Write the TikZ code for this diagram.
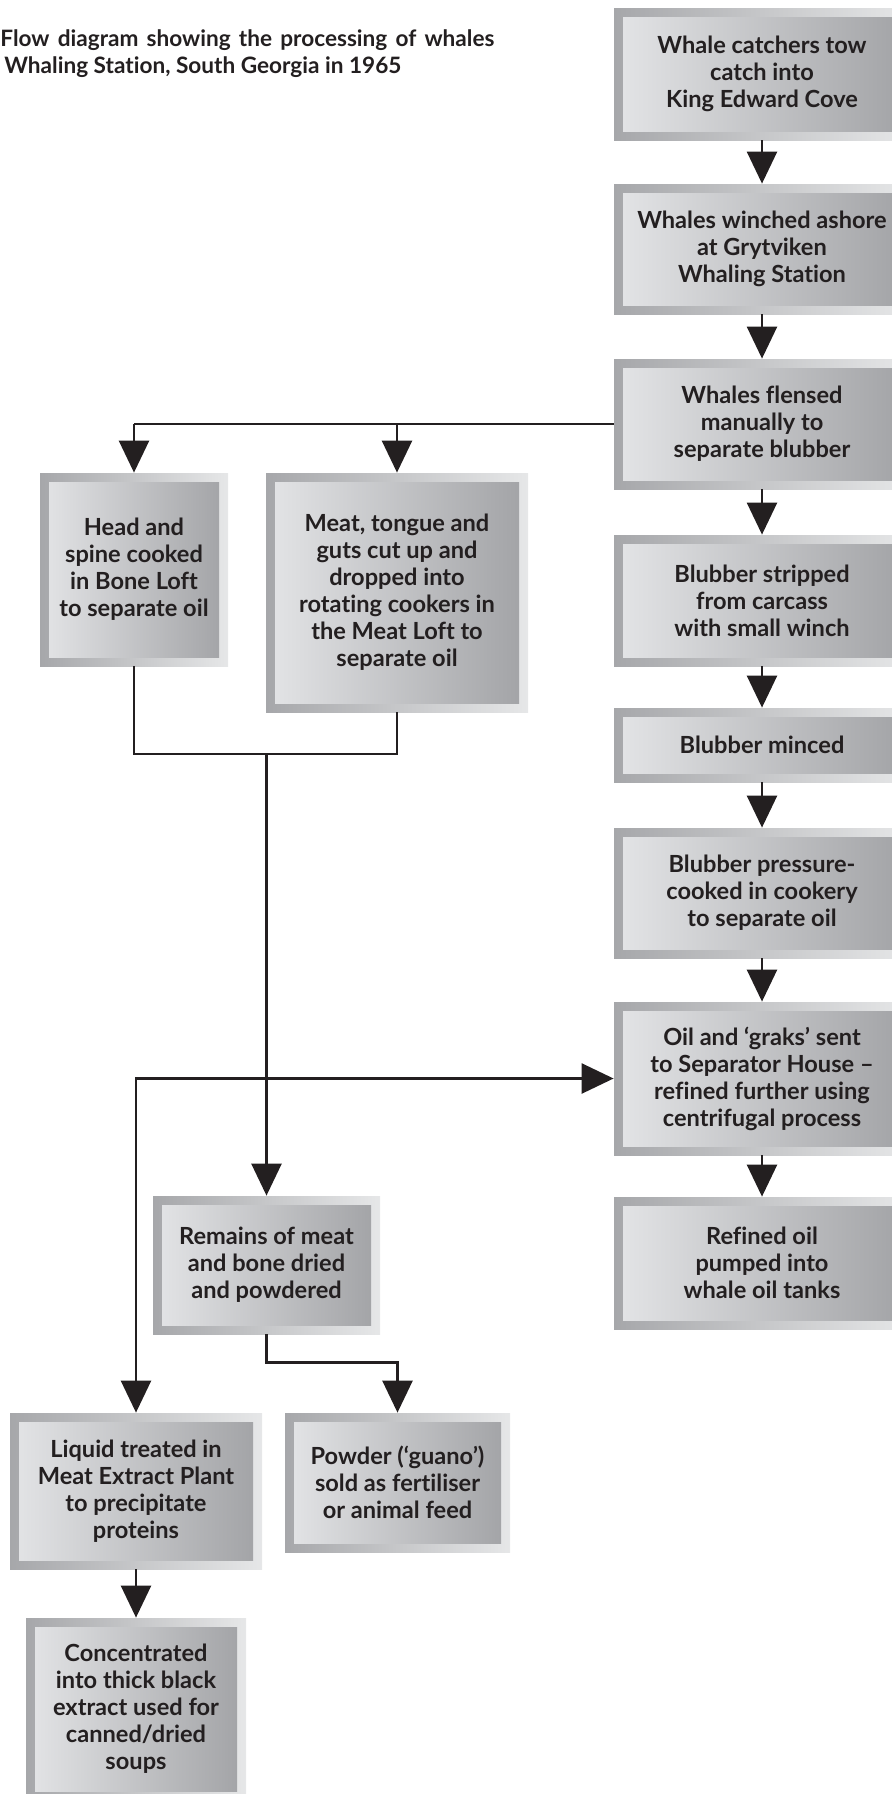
\documentclass[tikz,border=0pt]{standalone}
\usepackage{fontspec}
\setmainfont{Lato}[Ligatures=NoCommon]
\usetikzlibrary{arrows.meta,calc}
\definecolor{inkC}{HTML}{231F20}
\definecolor{frameD}{HTML}{A6A7AA}
\definecolor{frameL}{HTML}{E6E7E8}
\definecolor{faceL}{HTML}{E4E5E7}
\definecolor{faceD}{HTML}{A1A2A5}
\tikzset{
  stage/.style={rectangle, inner sep=0pt, align=center, text=inkC,
                font=\fontsize{11.8}{13.5}\selectfont\bfseries,
                left color=frameD, right color=frameL,
                path picture={\shade[left color=faceL, right color=faceD]
                  ($(path picture bounding box.south west)+(4.5pt,4.5pt)$) rectangle
                  ($(path picture bounding box.north east)+(-4.5pt,-4.5pt)$);}},
  col/.style={stage, minimum width=148pt},
  link/.style={draw=inkC, line width=1.25pt},
  arr/.style={link, -{Triangle[length=16pt,width=15pt]}},
  headline/.style={anchor=north west, inner sep=0pt, align=left, text=inkC,
                   font=\fontsize{11.3}{13.5}\selectfont\bfseries},
}

\begin{document}
\begin{tikzpicture}[x=0.5pt, y=-0.5pt]
\useasboundingbox (0,0) rectangle (892,1794);
\node[headline] (title) at (0,29) {\makebox[247pt][s]{Flow diagram showing the processing of whales}\\
  \hspace{2pt}Whaling Station, South Georgia in 1965};
% main line, right hand column
\node[col, minimum height=66pt] (tow) at (762,74) {Whale catchers tow\\catch into\\King Edward Cove};
\node[col, minimum height=65pt] (winch) at (762,249) {Whales winched ashore\\at Grytviken\\Whaling Station};
\node[col, minimum height=65pt] (flense) at (762,424) {Whales flensed\\manually to\\separate blubber};
\node[col, minimum height=65.5pt] (strip) at (762,600.5) {Blubber stripped\\from carcass\\with small winch};
\node[col, minimum height=37pt] (mince) at (762,745) {Blubber minced};
\node[col, minimum height=65pt] (cook) at (762,893) {Blubber pressure-\\cooked in cookery\\to separate oil};
\node[col, minimum height=76.5pt] (sep) at (762,1078.5) {Oil and ‘graks’ sent\\to Separator House –\\refined further using\\centrifugal process};
\node[col, minimum height=66pt] (tanks) at (762,1263) {Refined oil\\pumped into\\whale oil tanks};
% carcass, left hand side
\node[stage, minimum width=94pt, minimum height=96.5pt] (bone) at (134,569.5) {Head and\\spine cooked\\in Bone Loft\\to separate oil};
\node[stage, minimum width=131pt, minimum height=119.5pt] (meat) at (397,592.5) {Meat, tongue and\\guts cut up and\\dropped into\\rotating cookers in\\the Meat Loft to\\separate oil};
\node[stage, minimum width=113.5pt, minimum height=69pt] (remains) at (266.5,1265) {Remains of meat\\and bone dried\\and powdered};
\node[stage, minimum width=126pt, minimum height=78pt] (extract) at (136,1491) {Liquid treated in\\Meat Extract Plant\\to precipitate\\proteins};
\node[stage, minimum width=112.5pt, minimum height=69.5pt] (guano) at (397.5,1482.5) {Powder (‘guano’)\\sold as fertiliser\\or animal feed};
\node[stage, minimum width=110pt, minimum height=91pt] (soup) at (136,1709) {Concentrated\\into thick black\\extract used for\\canned/dried\\soups};
\coordinate (mix) at (266.5,754);

\draw[arr] (tow) -- (winch);
\draw[arr] (winch) -- (flense);
\draw[arr] (flense) -- (strip);
\draw[arr] (strip) -- (mince);
\draw[arr] (mince) -- (cook);
\draw[arr] (cook) -- (sep);
\draw[arr] (sep) -- (tanks);
\draw[link] (flense.west) -- (bone.north |- flense.west);
\draw[arr] (bone.north |- flense.west) -- (bone.north);
\draw[arr] (meat.north |- flense.west) -- (meat.north);
\draw[link] (bone.south) |- (mix) -| (meat.south);
\draw[arr] (mix) -- (remains.north);
\draw[link, {Triangle[length=16pt,width=15pt]}-{Triangle[length=16pt,width=15pt]}] (sep.west) -| (extract.north);
\draw[arr] (remains.south) -- ++(0,28) -| (guano.north);
\draw[arr] (extract) -- (soup);
\end{tikzpicture}
\end{document}
